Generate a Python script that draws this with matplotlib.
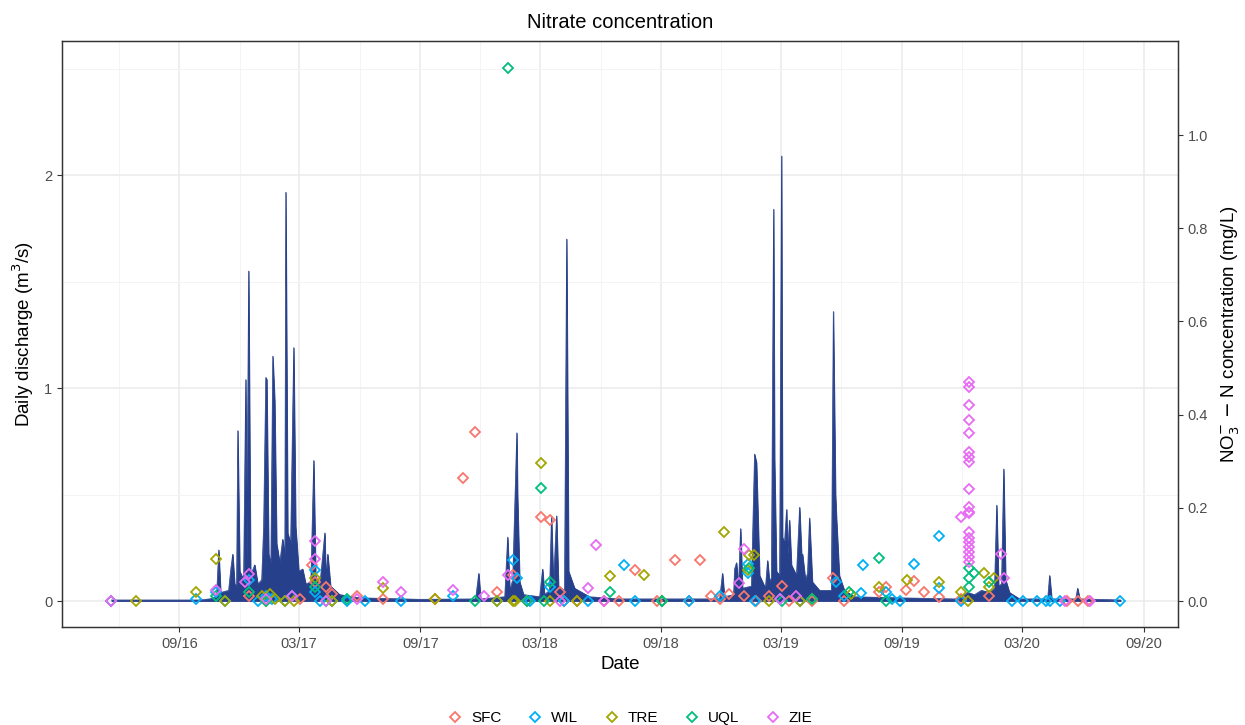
import numpy as np
import pandas as pd
import matplotlib
matplotlib.use("Agg")
import matplotlib.pyplot as plt
import matplotlib.dates as mdates
from matplotlib.lines import Line2D

plt.rcParams['font.family'] = ['Liberation Sans', 'DejaVu Sans']

# ---------------- data (dates as decimal years) ----------------
q_time = [2016.385, 2016.750, 2016.791, 2016.820, 2016.829, 2016.837, 2016.870, 2016.879, 2016.887,
          2016.895, 2016.903, 2016.908, 2016.916, 2016.932, 2016.941, 2016.945, 2016.953, 2016.961,
          2016.978, 2016.991, 2017.007, 2017.015, 2017.024, 2017.028, 2017.036, 2017.045, 2017.053,
          2017.061, 2017.069, 2017.082, 2017.094, 2017.103, 2017.107, 2017.115, 2017.127, 2017.140,
          2017.148, 2017.161, 2017.177, 2017.190, 2017.211, 2017.223, 2017.231, 2017.248, 2017.269,
          2017.273, 2017.281, 2017.293, 2017.331, 2017.414, 2017.663, 2017.895, 2017.908, 2017.916,
          2018.016, 2018.028, 2018.037, 2018.049, 2018.066, 2018.069, 2018.078, 2018.094, 2018.161,
          2018.173, 2018.181, 2018.202, 2018.210, 2018.218, 2018.231, 2018.239, 2018.264, 2018.273,
          2018.281, 2018.306, 2018.368, 2018.493, 2018.908, 2018.920, 2018.928, 2018.966, 2018.970,
          2018.978, 2018.986, 2018.995, 2019.003, 2019.040, 2019.053, 2019.061, 2019.074, 2019.098,
          2019.107, 2019.115, 2019.123, 2019.132, 2019.136, 2019.144, 2019.157, 2019.165, 2019.169,
          2019.177, 2019.186, 2019.190, 2019.198, 2019.206, 2019.227, 2019.240, 2019.248, 2019.252,
          2019.264, 2019.273, 2019.281, 2019.293, 2019.323, 2019.372, 2019.380, 2019.389, 2019.393,
          2019.405, 2019.426, 2019.468, 2019.655, 2019.883, 2019.912, 2019.937, 2019.966, 2019.995,
          2020.028, 2020.049, 2020.058, 2020.066, 2020.078, 2020.087, 2020.095, 2020.111, 2020.153,
          2020.269, 2020.277, 2020.286, 2020.385, 2020.393, 2020.402, 2020.571]
q_value = [0.005, 0.005, 0.01, 0.02, 0.24, 0.04, 0.05, 0.15, 0.22,
           0.08, 0.07, 0.80, 0.14, 0.10, 1.04, 0.18, 1.55, 0.12,
           0.17, 0.08, 0.10, 0.35, 1.05, 1.04, 0.22, 0.18, 1.15,
           0.94, 0.27, 0.18, 0.29, 0.22, 1.92, 0.32, 0.27, 1.19,
           0.35, 0.14, 0.15, 0.08, 0.09, 0.66, 0.12, 0.07, 0.32,
           0.11, 0.22, 0.07, 0.03, 0.015, 0.008, 0.01, 0.13, 0.01,
           0.02, 0.30, 0.05, 0.10, 0.79, 0.50, 0.09, 0.03, 0.02,
           0.15, 0.03, 0.05, 0.40, 0.07, 0.40, 0.07, 0.05, 1.70,
           0.14, 0.06, 0.02, 0.01, 0.01, 0.13, 0.02, 0.03, 0.15,
           0.18, 0.06, 0.34, 0.06, 0.07, 0.69, 0.65, 0.12, 0.06,
           0.19, 0.09, 0.11, 1.84, 0.67, 0.14, 0.12, 2.09, 0.30,
           0.27, 0.43, 0.22, 0.38, 0.17, 0.12, 0.44, 0.22, 0.22,
           0.10, 0.13, 0.39, 0.09, 0.05, 0.05, 1.36, 0.50, 0.39,
           0.12, 0.05, 0.02, 0.015, 0.01, 0.02, 0.04, 0.03, 0.05,
           0.04, 0.06, 0.45, 0.07, 0.08, 0.62, 0.10, 0.04, 0.01,
           0.01, 0.12, 0.01, 0.01, 0.06, 0.01, 0.005]

sites = ["SFC", "WIL", "TRE", "UQL", "ZIE"]
site_colors = ["#F8766D", "#00B0F6", "#A3A500", "#00BF7D", "#E76BF3"]

sfc_time = [2016.385, 2016.953, 2017.165, 2017.214, 2017.227, 2017.276, 2017.301, 2017.401, 2017.509,
            2017.725, 2017.841, 2017.891, 2017.982, 2018.049, 2018.107, 2018.165, 2018.206, 2018.244,
            2018.264, 2018.318, 2018.430, 2018.492, 2018.555, 2018.650, 2018.721, 2018.783, 2018.825,
            2018.874, 2018.908, 2018.949, 2019.011, 2019.061, 2019.115, 2019.165, 2019.198, 2019.240,
            2019.290, 2019.380, 2019.426, 2019.571, 2019.600, 2019.683, 2019.714, 2019.758, 2019.820,
            2019.912, 2020.028, 2020.351, 2020.393, 2020.435]
sfc_conc = [0.0, 0.01, 0.005, 0.077, 0.04, 0.030, 0.015, 0.01, 0.005,
            0.005, 0.264, 0.363, 0.02, 0.056, 0.0, 0.18, 0.174, 0.02,
            0.0, 0.0, 0.0, 0.0, 0.066, 0.0, 0.088, 0.0, 0.088,
            0.01, 0.005, 0.015, 0.01, 0.0, 0.01, 0.032, 0.0, 0.0,
            0.0, 0.05, 0.0, 0.02, 0.03, 0.023, 0.043, 0.02, 0.009,
            0.005, 0.01, 0.0, 0.0, 0.0]

wil_time = [2016.385, 2016.737, 2016.816, 2016.854, 2016.953, 2016.991, 2017.024, 2017.048, 2017.103,
            2017.132, 2017.227, 2017.227, 2017.248, 2017.301, 2017.363, 2017.434, 2017.584, 2017.800,
            2017.982, 2018.049, 2018.069, 2018.120, 2018.206, 2018.264, 2018.360, 2018.513, 2018.555,
            2018.667, 2018.783, 2018.908, 2019.024, 2019.024, 2019.053, 2019.157, 2019.240, 2019.393,
            2019.426, 2019.497, 2019.505, 2019.600, 2019.625, 2019.655, 2019.717, 2019.820, 2019.820,
            2019.912, 2020.123, 2020.165, 2020.223, 2020.261, 2020.277, 2020.319, 2020.567]
wil_conc = [0.0, 0.005, 0.02, 0.0, 0.045, 0.0, 0.01, 0.005, 0.0,
            0.01, 0.066, 0.02, 0.0, 0.0, 0.0, 0.0, 0.0, 0.01,
            0.0, 0.088, 0.05, 0.0, 0.03, 0.0, 0.0, 0.077, 0.0,
            0.0, 0.0, 0.01, 0.08, 0.06, 0.0, 0.005, 0.0, 0.04,
            0.01, 0.017, 0.077, 0.02, 0.005, 0.0, 0.079, 0.139, 0.028,
            0.0, 0.0, 0.0, 0.0, 0.0, 0.0, 0.0, 0.0]

tre_time = [2016.488, 2016.737, 2016.816, 2016.854, 2017.007, 2017.024, 2017.040, 2017.061, 2017.103,
            2017.140, 2017.227, 2017.301, 2017.509, 2017.725, 2017.982, 2018.049, 2018.057, 2018.165,
            2018.206, 2018.318, 2018.451, 2018.596, 2018.667, 2018.928, 2019.028, 2019.049, 2019.024,
            2019.115, 2019.240, 2019.290, 2019.455, 2019.571, 2019.688, 2019.820, 2019.912, 2019.941,
            2020.007, 2020.028, 2020.049]
tre_conc = [0.0, 0.02, 0.09, 0.0, 0.01, 0.0, 0.015, 0.005, 0.0,
            0.0, 0.05, 0.0, 0.028, 0.005, 0.0, 0.0, 0.0, 0.296,
            0.0, 0.0, 0.054, 0.056, 0.0, 0.148, 0.099, 0.099, 0.067,
            0.0, 0.0, 0.005, 0.015, 0.03, 0.045, 0.04, 0.02, 0.0,
            0.06, 0.03, 0.05]

uql_time = [2016.816, 2016.953, 2017.024, 2017.227, 2017.276, 2017.363, 2017.891, 2018.029, 2018.107,
            2018.165, 2018.181, 2018.206, 2018.451, 2018.667, 2019.028, 2019.165, 2019.290, 2019.447,
            2019.571, 2019.600, 2019.945, 2019.945, 2019.945, 2019.966, 2020.028]
uql_conc = [0.01, 0.02, 0.0, 0.03, 0.0, 0.005, 0.0, 1.144, 0.0,
            0.243, 0.0, 0.04, 0.02, 0.0, 0.07, 0.0, 0.005, 0.02,
            0.092, 0.0, 0.07, 0.05, 0.03, 0.06, 0.04]

zie_time = [2016.385, 2016.816, 2016.937, 2016.953, 2017.024, 2017.132, 2017.227, 2017.227, 2017.276,
            2017.401, 2017.509, 2017.584, 2017.800, 2017.932, 2018.029, 2018.244, 2018.360, 2018.393,
            2018.430, 2019.011, 2018.990, 2019.157, 2019.227, 2019.912,
            2019.945, 2019.945, 2019.945, 2019.945, 2019.945, 2019.945, 2019.945, 2019.945, 2019.945,
            2019.945, 2019.945, 2019.945, 2019.945, 2019.945, 2019.945, 2019.945, 2019.945, 2019.945,
            2019.945, 2020.074, 2020.090, 2020.340, 2020.444]
zie_conc = [0.0, 0.024, 0.04, 0.058, 0.005, 0.01, 0.129, 0.09, 0.0,
            0.005, 0.04, 0.02, 0.023, 0.01, 0.056, 0.0, 0.028, 0.12,
            0.0, 0.112, 0.038, 0.005, 0.01, 0.18,
            0.470, 0.459, 0.421, 0.388, 0.361, 0.320, 0.309, 0.298, 0.240,
            0.202, 0.191, 0.189, 0.148, 0.135, 0.127, 0.116, 0.105, 0.094,
            0.084, 0.10, 0.05, 0.0, 0.0]

site_times = [sfc_time, wil_time, tre_time, uql_time, zie_time]
site_concs = [sfc_conc, wil_conc, tre_conc, uql_conc, zie_conc]

x_tick_labels_dates = ["2016-09-01", "2017-03-01", "2017-09-01", "2018-03-01", "2018-09-01",
                       "2019-03-01", "2019-09-01", "2020-03-01", "2020-09-01"]


def dec2date(y):
    y = np.asarray(y, dtype=float)
    out = []
    for v in y:
        yr = int(np.floor(v))
        start = pd.Timestamp(year=yr, month=1, day=1)
        end = pd.Timestamp(year=yr + 1, month=1, day=1)
        out.append(start + (end - start) * (v - yr))
    return pd.to_datetime(out)


# ---------------- figure ----------------
fig = plt.figure(figsize=(12.45, 7.25), dpi=100)
ax = fig.add_axes([62 / 1245, 1 - 627 / 725, (1178 - 62) / 1245, (627 - 41) / 725])
ax2 = ax.twinx()

scale = 2.188
ylo, yhi = -0.122, 2.63
ax.set_ylim(ylo, yhi)
ax2.set_ylim(ylo / scale, yhi / scale)

qt = dec2date(q_time)
ax.fill_between(qt, 0, q_value, color="#27408B", linewidth=0.6, edgecolor="#27408B", zorder=2)
ax.plot(qt, q_value, color="#27408B", linewidth=0.5, zorder=2)

for name, col, t, c in zip(sites, site_colors, site_times, site_concs):
    ax2.plot(dec2date(t), c, linestyle="none", marker="D", markersize=5.0,
             markerfacecolor="none", markeredgecolor=col, markeredgewidth=1.3, zorder=3)

xmin = pd.Timestamp("2016-03-07")
xmax = pd.Timestamp("2020-10-23")
ax.set_xlim(xmin, xmax)

major = pd.to_datetime(x_tick_labels_dates)
ax.set_xticks(major)
ax.xaxis.set_major_formatter(mdates.DateFormatter("%m/%y"))
minor = pd.to_datetime(["2016-06-01", "2016-12-01", "2017-06-01", "2017-12-01", "2018-06-01",
                        "2018-12-01", "2019-06-01", "2019-12-01", "2020-06-01"])
ax.set_xticks(minor, minor=True)
ax.set_yticks([0, 1, 2])
ax.set_yticks([0.5, 1.5, 2.5], minor=True)
ax.set_yticklabels(["0", "1", "2"])
ax2.set_yticks([0.0, 0.2, 0.4, 0.6, 0.8, 1.0])
ax2.set_yticklabels(["0.0", "0.2", "0.4", "0.6", "0.8", "1.0"])

ax.grid(True, which="major", color="#EBEBEB", linewidth=1.1, zorder=0)
ax.grid(True, which="minor", color="#F3F3F3", linewidth=0.6, zorder=0)
ax.set_axisbelow(True)
ax2.set_zorder(ax.get_zorder() + 1)
ax2.patch.set_visible(False)

for a in (ax, ax2):
    for s in a.spines.values():
        s.set_color("#333333")
        s.set_linewidth(0.9)
    a.tick_params(which="major", length=3.5, width=0.8, color="#333333", labelcolor="#4D4D4D",
                  labelsize=10.5)
    a.tick_params(which="minor", length=0)

ax.set_xlabel("Date", fontsize=13.5, labelpad=4)
ax.set_ylabel("Daily discharge (m$^3$/s)", fontsize=13.5, labelpad=6)
ax2.set_ylabel("NO$_3^{-}$ $-$ N concentration (mg/L)", fontsize=13.5, rotation=90, labelpad=8)
ax.set_title("Nitrate concentration", fontsize=14.5, pad=9)

handles = [Line2D([], [], linestyle="none", marker="D", markersize=5.0, markerfacecolor="none",
                  markeredgecolor=c, markeredgewidth=1.3, label=n) for n, c in zip(sites, site_colors)]
fig.legend(handles=handles, loc="lower center", ncol=5, frameon=False, fontsize=11,
           bbox_to_anchor=(0.506, -0.019), handlelength=1.0, handletextpad=0.55,
           columnspacing=1.7)

fig.savefig("out.png", dpi=100)
